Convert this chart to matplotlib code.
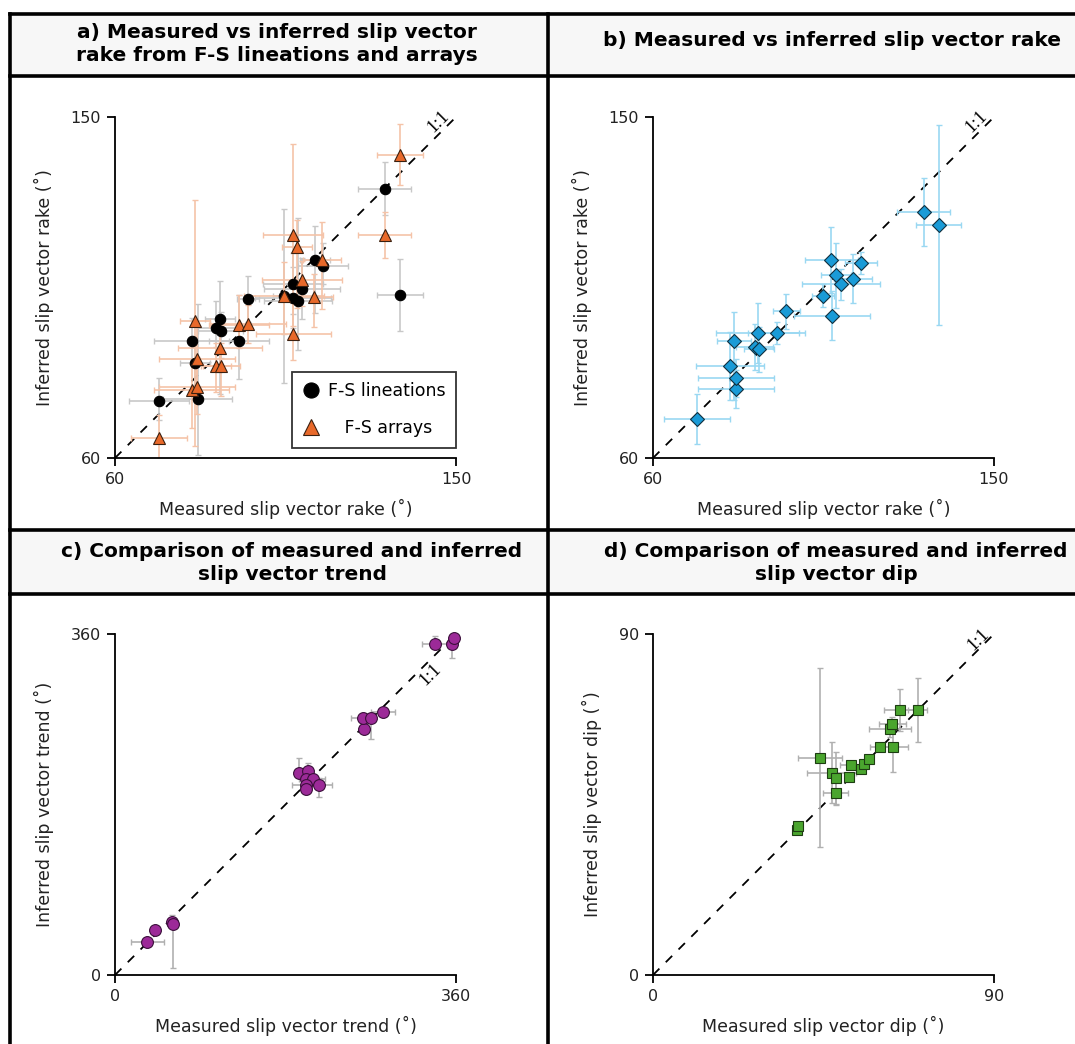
import matplotlib.pyplot as plt
import numpy as np
from matplotlib.lines import Line2D
from matplotlib.patches import Rectangle

# ---- panel a : rake, F-S lineations (circles) and F-S arrays (triangles)
lin_meas = [71.6, 81.8, 81.1, 80.2, 86.6, 87.9, 87.7, 92.7, 95.1, 104.6, 107.0, 109.3, 107.0, 108.3, 112.7, 114.9, 131.2, 135.2]
lin_inf = [75.0, 75.7, 85.1, 91.0, 94.4, 93.5, 96.8, 90.9, 102.0, 102.8, 106.0, 104.7, 102.3, 101.4, 112.2, 110.8, 131.1, 103.1]
lin_xerr = [8, 9, 4, 10, 5, 6, 4, 8, 3, 3, 8, 10, 10, 9, 4, 6.5, 7, 6]
lin_ylo = [5, 15, 6, 6, 5, 7, 20, 10, 6, 23, 8, 8, 8, 13, 14, 5, 7, 9.5]
lin_yhi = [6, 25, 5, 6, 7, 5, 10, 12, 6, 23, 8, 8, 8, 22, 9, 6, 7, 9.5]

arr_meas = [71.6, 81.1, 81.7, 80.2, 81.7, 87.7, 86.6, 88.1, 92.7, 95.1, 104.6, 107.0, 108.1, 109.4, 107.1, 112.6, 114.7, 131.2, 135.2]
arr_inf = [65.3, 96.1, 86.2, 77.9, 78.7, 89.0, 84.3, 84.3, 95.0, 95.4, 102.7, 118.8, 115.7, 107.1, 92.8, 102.5, 112.2, 118.8, 140.1]
arr_xerr = [7.5, 4, 10, 10, 10, 11, 4, 5, 8, 10, 10.5, 8, 4, 10.5, 10, 5, 5, 7, 6]
arr_ylo = [6, 33, 8, 10, 7, 6, 7, 8, 6, 5, 10, 24, 16, 7, 7, 8, 13, 6, 8]
arr_yhi = [6, 32, 9, 7, 8, 8, 6, 6, 8, 5, 9, 24, 7, 5, 8, 6, 10, 6, 8]

# ---- panel b : rake
rake_meas = [71.6, 81.9, 81.9, 80.4, 81.3, 86.8, 87.9, 87.6, 92.7, 95.2, 104.9, 107.3, 107.1, 108.3, 109.5, 112.7, 114.8, 131.5, 135.4]
rake_inf = [70.2, 78.3, 81.1, 84.3, 90.8, 89.3, 88.7, 93.0, 93.0, 98.7, 102.8, 97.6, 112.2, 108.2, 105.8, 107.3, 111.5, 124.9, 121.6]
rake_xerr = [8.8, 10, 10, 9, 4.5, 5, 4, 11, 7.5, 3.6, 3, 10, 7, 4, 10.3, 5, 4.2, 7, 6]
rake_ylo = [6.6, 5, 5, 9, 15.6, 6, 6, 8, 3, 4.6, 3, 6.5, 8.7, 8.5, 4, 6.5, 3, 8.9, 26.4]
rake_yhi = [6.6, 5, 5, 9, 7.7, 6, 6, 8, 3, 4.6, 3, 6.5, 8.7, 8.5, 4, 6.5, 3, 8.9, 26.4]

# ---- panel c : trend
trend_meas = [34.3, 42.7, 60.2, 61.3, 194.3, 203.8, 202.0, 209.4, 201.3, 202.0, 215.7, 262.6, 261.9, 270.7, 282.9, 337.9, 355.4, 358.2]
trend_inf = [34.6, 48.0, 55.7, 54.0, 213.7, 215.4, 206.6, 207.3, 200.3, 196.8, 200.3, 260.2, 270.8, 270.8, 277.9, 349.4, 349.4, 356.1]
trend_xerr = [17.5, 2, 2, 2, 4, 4, 8, 12, 14, 4, 13, 3, 13, 4, 13, 14, 4, 2]
trend_ylo = [4, 4, 4, 47, 4, 8, 5, 5, 5, 6, 12, 4, 4, 22, 4, 4, 15, 2]
trend_yhi = [4, 4, 8, 4, 15, 8, 5, 5, 5, 5, 8, 4, 6, 6, 4, 9, 12, 2]

# ---- panel d : dip
dip_meas = [38.0, 38.4, 44.2, 47.2, 48.2, 48.2, 51.6, 52.3, 54.8, 55.8, 56.9, 59.8, 63.4, 62.6, 63.2, 65.3, 69.9]
dip_inf = [38.4, 39.2, 57.4, 53.4, 51.9, 48.1, 52.3, 55.4, 54.3, 55.6, 57.1, 60.1, 60.1, 64.9, 66.2, 69.9, 69.9]
dip_xerr = [0.5, 0.5, 5.8, 6.5, 1, 3.3, 1, 3, 1, 1, 1, 2.5, 4, 5.6, 3.5, 4.3, 2.5]
dip_yerr = [0.5, 0.5, 23.5, 8, 7, 3, 1, 1, 1, 1, 1, 1, 6.6, 2, 2, 5.5, 8.4]

W, H = 1075, 1044
fig = plt.figure(figsize=(W / 100, H / 100), dpi=100)
fig.patch.set_facecolor('white')


def fx(px):
    return px / W


def fy(py):
    return 1 - py / H


# header boxes + table lines
for y0, y1 in [(14, 76), (530, 594)]:
    fig.patches.append(Rectangle((fx(10), fy(y1)), fx(1075) - fx(10), fy(y0) - fy(y1),
                                 transform=fig.transFigure, facecolor='#f7f7f7', edgecolor='none', zorder=0))
for py in [14, 76, 530, 594]:
    fig.lines.append(Line2D([fx(10), 1], [fy(py), fy(py)], transform=fig.transFigure, color='black', lw=2.6))
for px in [10, 548]:
    fig.lines.append(Line2D([fx(px), fx(px)], [fy(14), 0], transform=fig.transFigure, color='black', lw=2.6))

tkw = dict(fontsize=14.5, fontweight='bold', ha='center', va='center', color='black', linespacing=1.3)
fig.text(fx(277), fy(44), 'a) Measured vs inferred slip vector\nrake from F-S lineations and arrays', **tkw)
fig.text(fx(832), fy(40), 'b) Measured vs inferred slip vector rake', **tkw)
fig.text(fx(292), fy(563), 'c) Comparison of measured and inferred\nslip vector trend', **tkw)
fig.text(fx(836), fy(563), 'd) Comparison of measured and inferred\nslip vector dip', **tkw)


def make_ax(left, top, lo, hi, name, onepos):
    ax = fig.add_axes([fx(left), fy(top + 341), 341 / W, 341 / H])
    ax.set_xlim(lo, hi)
    ax.set_ylim(lo, hi)
    ax.set_xticks([lo, hi])
    ax.set_yticks([lo, hi])
    ax.spines['top'].set_visible(False)
    ax.spines['right'].set_visible(False)
    for s in ['left', 'bottom']:
        ax.spines[s].set_linewidth(1.3)
    ax.tick_params(direction='out', length=6, width=1.3, labelsize=11.5, colors='black', labelcolor='#222222', pad=4)
    ax.set_xlabel('Measured slip vector ' + name + ' (˚)', fontsize=12.5, color='#222222', labelpad=9)
    ax.set_ylabel('Inferred slip vector ' + name + ' (˚)', fontsize=12.5, color='#222222', labelpad=12)
    ax.plot([lo, hi], [lo, hi], color='black', lw=1.3, dashes=(5, 5), zorder=1, clip_on=False)
    ax.text(onepos[0], onepos[1], '1:1', rotation=45, fontsize=13, family='Liberation Serif',
            ha='center', va='center', rotation_mode='anchor')
    return ax


ekw = dict(fmt='none', elinewidth=1.2, capsize=2, capthick=1.0, zorder=2)

# a
ax = make_ax(115, 117, 60, 150, 'rake', (145.3, 148.8))
ax.errorbar(lin_meas, lin_inf, xerr=lin_xerr, yerr=[lin_ylo, lin_yhi], ecolor='#c8c8c8', **ekw)
ax.errorbar(arr_meas, arr_inf, xerr=arr_xerr, yerr=[arr_ylo, arr_yhi], ecolor='#f5c3a8', **ekw)
ax.plot(lin_meas, lin_inf, 'o', ms=7.5, mfc='black', mec='black', mew=0.8, zorder=4, ls='none',
        label='F-S lineations')
ax.plot(arr_meas, arr_inf, '^', ms=8, mfc='#e8692a', mec='#3a2010', mew=0.8, zorder=5, ls='none',
        label='   F-S arrays')
leg = ax.legend(loc='lower right', bbox_to_anchor=(1.0, 0.03), fontsize=12.5, markerscale=1.45,
                frameon=True, fancybox=False, edgecolor='black', borderpad=0.6, labelspacing=1.1,
                handlelength=1.0, handletextpad=0.5, borderaxespad=0.0)
leg.get_frame().set_linewidth(1.3)

# b
ax = make_ax(653, 117, 60, 150, 'rake', (145.3, 148.8))
ax.errorbar(rake_meas, rake_inf, xerr=rake_xerr, yerr=[rake_ylo, rake_yhi], ecolor='#9ad8f2', **ekw)
ax.plot(rake_meas, rake_inf, 'D', ms=7.5, mfc='#1a9bd7', mec='#10303f', mew=0.8, zorder=4, ls='none')

# c
ax = make_ax(115, 634, 0, 360, 'trend', (333, 317))
ax.errorbar(trend_meas, trend_inf, xerr=trend_xerr, yerr=[trend_ylo, trend_yhi], ecolor='#b0b0b0', **ekw)
ax.plot(trend_meas, trend_inf, 'o', ms=8.5, mfc='#9c2a98', mec='#3a0f3a', mew=0.8, zorder=4, ls='none',
        clip_on=False)

# d
ax = make_ax(653, 634, 0, 90, 'dip', (85.8, 88.5))
ax.errorbar(dip_meas, dip_inf, xerr=dip_xerr, yerr=dip_yerr, ecolor='#b0b0b0', **ekw)
ax.plot(dip_meas, dip_inf, 's', ms=7.5, mfc='#4aa52e', mec='#1d3d12', mew=0.8, zorder=4, ls='none')

fig.savefig('out.png', dpi=100)
